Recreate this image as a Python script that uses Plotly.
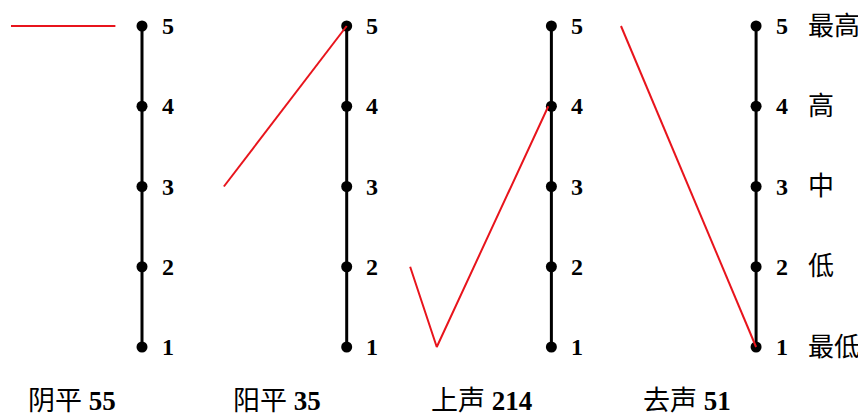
import plotly.graph_objects as go

# tone contours (pitch values on the 5-level scale)
tone_names = ['阴平', '阳平', '上声', '去声']
tone_codes = ['55', '35', '214', '51']
tone_pitch = [[5, 5], [3, 5], [2, 1, 4], [5, 1]]
# time position of each contour point, relative to its scale bar (panel units)
tone_time = [[-0.64, -0.13], [-0.60, 0.0], [-0.69, -0.56, -0.015], [-0.66, 0.0]]

levels = [1, 2, 3, 4, 5]
level_names = ['最低', '低', '中', '高', '最高']

cjk = "Liberation Serif, Noto Sans CJK SC, serif"

fig = go.Figure()

for i in range(len(tone_names)):
    # scale bar with dots
    fig.add_trace(go.Scatter(
        x=[i] * len(levels), y=levels, mode='lines+markers',
        line=dict(color='black', width=3),
        marker=dict(color='black', size=11),
        hoverinfo='skip', showlegend=False))
    # tone contour
    fig.add_trace(go.Scatter(
        x=[i + t for t in tone_time[i]], y=tone_pitch[i], mode='lines',
        line=dict(color='#e8141c', width=2),
        showlegend=False))
    for lv in levels:
        fig.add_annotation(x=i + 0.125, y=lv, text='<b>%d</b>' % lv,
                           showarrow=False, xanchor='center', yanchor='middle',
                           font=dict(family="Liberation Serif", size=24, color='black'))
    fig.add_annotation(x=i - 0.34, y=0.33,
                       text='%s <b>%s</b>' % (tone_names[i], tone_codes[i]),
                       showarrow=False, xanchor='center', yanchor='middle',
                       font=dict(family=cjk, size=27, color='black'))

for lv, name in zip(levels, level_names):
    fig.add_annotation(x=3.244, y=lv, text=name, showarrow=False,
                       xanchor='left', yanchor='middle',
                       font=dict(family=cjk, size=26, color='black'))

# page body adds an 8px offset, ranges are shifted to compensate
fig.update_layout(
    width=866, height=417,
    margin=dict(l=0, r=0, t=0, b=0),
    plot_bgcolor='white', paper_bgcolor='white',
    xaxis=dict(range=[-0.6546, 3.576], visible=False, fixedrange=True),
    yaxis=dict(range=[0.028, 5.2243], visible=False, fixedrange=True),
)

fig.write_html("out.html")
